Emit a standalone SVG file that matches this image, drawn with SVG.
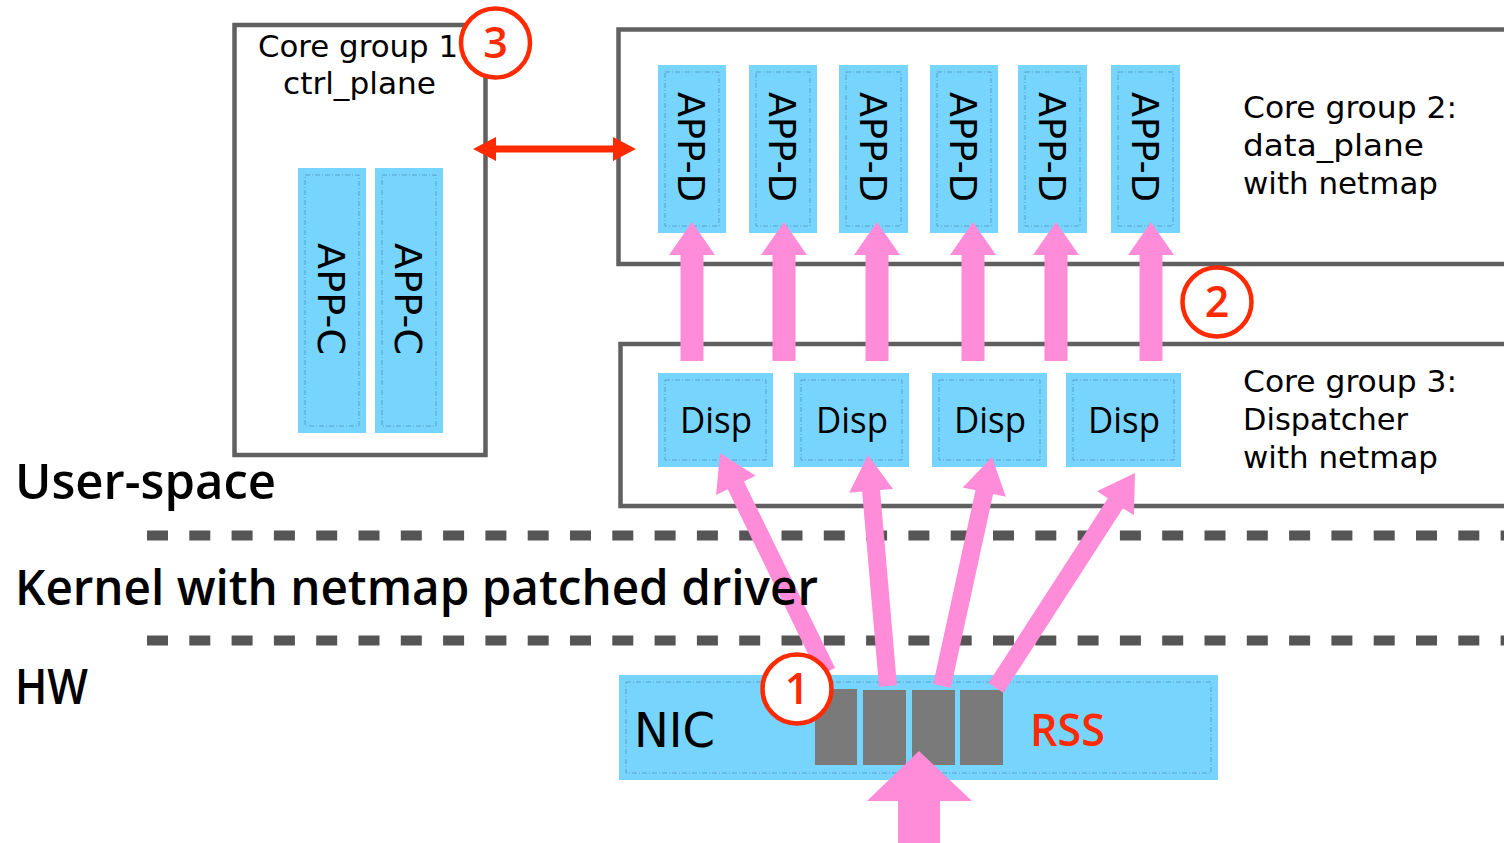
<svg xmlns="http://www.w3.org/2000/svg" xmlns:xlink="http://www.w3.org/1999/xlink" width="1504" height="843" viewBox="0 0 1504 843">
<style>
.frame{fill:none;stroke:#606060;stroke-width:4.5}
.blue{fill:#77d5fd}
.inner{fill:none;stroke:#4f97b8;stroke-width:1;stroke-dasharray:5 2 1 2;opacity:0.8}
.pink{fill:#ff8cd8}
.sep{stroke:#555555;stroke-width:10;stroke-dasharray:21 21.3}
.ring{fill:#ffffff;stroke:#ff2a00;stroke-width:4.5}
.num{font-family:"Open Sans","Liberation Sans",sans-serif;font-weight:600;font-size:43px;fill:#ff2a00;text-anchor:middle}
.lbl{font-family:"DejaVu Sans","Liberation Sans",sans-serif;font-size:30px;fill:#000}
.app{font-family:"DejaVu Sans","Liberation Sans",sans-serif;font-size:38px;fill:#000;text-anchor:middle}
.disp{font-family:"Open Sans","Liberation Sans",sans-serif;font-size:37px;fill:#000;text-anchor:middle}
.layer{font-family:"Open Sans","Liberation Sans",sans-serif;font-weight:600;font-size:48px;fill:#000}
</style>
<defs>
<path id="varr" d="M-11.5,361 V255 H-23 L0,222 L23,255 H11.5 V361 Z"/>
</defs>

<g id="core-group-1">
<rect class="frame" x="234.5" y="25" width="251" height="430"/>
<text class="lbl" x="258" y="57" textLength="200" lengthAdjust="spacingAndGlyphs">Core group 1</text>
<text class="lbl" x="283" y="94" textLength="153" lengthAdjust="spacingAndGlyphs">ctrl_plane</text>
</g>
<g id="core-group-2">
<path class="frame" d="M1510,29.5 H618.5 V264 H1510"/>
<text class="lbl" x="1243" y="118" textLength="214" lengthAdjust="spacingAndGlyphs">Core group 2:</text>
<text class="lbl" x="1243" y="156" textLength="181" lengthAdjust="spacingAndGlyphs">data_plane</text>
<text class="lbl" x="1243" y="194" textLength="195" lengthAdjust="spacingAndGlyphs">with netmap</text>
</g>
<g id="core-group-3">
<path class="frame" d="M1510,344 H620.5 V506 H1510"/>
<text class="lbl" x="1243" y="392" textLength="214" lengthAdjust="spacingAndGlyphs">Core group 3:</text>
<text class="lbl" x="1243" y="430" textLength="165" lengthAdjust="spacingAndGlyphs">Dispatcher</text>
<text class="lbl" x="1243" y="468" textLength="195" lengthAdjust="spacingAndGlyphs">with netmap</text>
</g>

<g id="separators">
<line class="sep" x1="147" y1="535.5" x2="1504" y2="535.5"/>
<line class="sep" x1="147" y1="640.5" x2="1504" y2="640.5"/>
</g>

<g id="app-c-1"><rect class="blue" x="298" y="168" width="68" height="265"/><rect class="inner" x="305" y="175" width="54" height="251"/><text class="app" transform="translate(332,299) rotate(90)" y="14" textLength="112" lengthAdjust="spacingAndGlyphs">APP-C</text></g>
<g id="app-c-2"><rect class="blue" x="375" y="168" width="68" height="265"/><rect class="inner" x="382" y="175" width="54" height="251"/><text class="app" transform="translate(409,299) rotate(90)" y="14" textLength="112" lengthAdjust="spacingAndGlyphs">APP-C</text></g>

<g id="app-d-1"><rect class="blue" x="658" y="65" width="68" height="168"/><rect class="inner" x="665" y="72" width="54" height="154"/><text class="app" transform="translate(692,147) rotate(90)" y="14" textLength="110" lengthAdjust="spacingAndGlyphs">APP-D</text></g>
<g id="app-d-2"><rect class="blue" x="749" y="65" width="68" height="168"/><rect class="inner" x="756" y="72" width="54" height="154"/><text class="app" transform="translate(783,147) rotate(90)" y="14" textLength="110" lengthAdjust="spacingAndGlyphs">APP-D</text></g>
<g id="app-d-3"><rect class="blue" x="839" y="65" width="69" height="168"/><rect class="inner" x="846" y="72" width="55" height="154"/><text class="app" transform="translate(873.5,147) rotate(90)" y="14" textLength="110" lengthAdjust="spacingAndGlyphs">APP-D</text></g>
<g id="app-d-4"><rect class="blue" x="930" y="65" width="68" height="168"/><rect class="inner" x="937" y="72" width="54" height="154"/><text class="app" transform="translate(964,147) rotate(90)" y="14" textLength="110" lengthAdjust="spacingAndGlyphs">APP-D</text></g>
<g id="app-d-5"><rect class="blue" x="1018" y="65" width="69" height="168"/><rect class="inner" x="1025" y="72" width="55" height="154"/><text class="app" transform="translate(1052.5,147) rotate(90)" y="14" textLength="110" lengthAdjust="spacingAndGlyphs">APP-D</text></g>
<g id="app-d-6"><rect class="blue" x="1111" y="65" width="69" height="168"/><rect class="inner" x="1118" y="72" width="55" height="154"/><text class="app" transform="translate(1145.5,147) rotate(90)" y="14" textLength="110" lengthAdjust="spacingAndGlyphs">APP-D</text></g>

<g id="disp-1"><rect class="blue" x="658" y="373" width="115" height="94"/><rect class="inner" x="665" y="380" width="101" height="80"/><text class="disp" x="716" y="433" textLength="72" lengthAdjust="spacingAndGlyphs">Disp</text></g>
<g id="disp-2"><rect class="blue" x="794" y="373" width="115" height="94"/><rect class="inner" x="801" y="380" width="101" height="80"/><text class="disp" x="852" y="433" textLength="72" lengthAdjust="spacingAndGlyphs">Disp</text></g>
<g id="disp-3"><rect class="blue" x="932" y="373" width="115" height="94"/><rect class="inner" x="939" y="380" width="101" height="80"/><text class="disp" x="990" y="433" textLength="72" lengthAdjust="spacingAndGlyphs">Disp</text></g>
<g id="disp-4"><rect class="blue" x="1066" y="373" width="115" height="94"/><rect class="inner" x="1073" y="380" width="101" height="80"/><text class="disp" x="1124" y="433" textLength="72" lengthAdjust="spacingAndGlyphs">Disp</text></g>

<g id="nic">
<rect class="blue" x="619" y="675" width="599" height="105"/>
<rect class="inner" x="626" y="682" width="585" height="91"/>
<rect x="815" y="689" width="42" height="76" fill="#7a7a7a"/>
<rect x="863" y="690" width="43" height="75" fill="#7a7a7a"/>
<rect x="912" y="690" width="43" height="75" fill="#7a7a7a"/>
<rect x="960" y="690" width="43" height="75" fill="#7a7a7a"/>
<text x="634" y="747" font-family="DejaVu Sans, Liberation Sans, sans-serif" font-size="48" fill="#000" textLength="81" lengthAdjust="spacingAndGlyphs">NIC</text>
<text x="1030" y="746" font-family="Open Sans, Liberation Sans, sans-serif" font-weight="600" font-size="46" fill="#ff2a00" textLength="75" lengthAdjust="spacingAndGlyphs">RSS</text>
</g>

<g id="connectors">
<use xlink:href="#varr" href="#varr" x="692" class="pink"/>
<use xlink:href="#varr" href="#varr" x="784" class="pink"/>
<use xlink:href="#varr" href="#varr" x="877" class="pink"/>
<use xlink:href="#varr" href="#varr" x="973" class="pink"/>
<use xlink:href="#varr" href="#varr" x="1056" class="pink"/>
<use xlink:href="#varr" href="#varr" x="1151" class="pink"/>
<path class="pink" transform="translate(827,672) rotate(-116.04)" d="M0,-9 H207.7 V-22 L243.7,0 L207.7,22 V9 H0 Z"/>
<path class="pink" transform="translate(888,686) rotate(-94.95)" d="M0,-9 H195.9 V-22 L231.9,0 L195.9,22 V9 H0 Z"/>
<path class="pink" transform="translate(942,686) rotate(-77.68)" d="M0,-9 H198.4 V-22 L234.4,0 L198.4,22 V9 H0 Z"/>
<path class="pink" transform="translate(996,688) rotate(-57.12)" d="M0,-9 H220 V-22 L256,0 L220,22 V9 H0 Z"/>
<path class="pink" d="M898,843 V801 H867 L919,751 L972,801 H940 V843 Z"/>
<path fill="#ff2a00" d="M473,149 L496,137 V145.5 H613 V137 L636,149 L613,161 V152.5 H496 V161 Z"/>
</g>

<g id="marker-1"><circle class="ring" cx="797" cy="689" r="34.5"/><text class="num" x="797" y="704">1</text></g>
<g id="marker-2"><circle class="ring" cx="1217" cy="302" r="34.5"/><text class="num" x="1217" y="317">2</text></g>
<g id="marker-3"><circle class="ring" cx="495.5" cy="43" r="34.5"/><text class="num" x="495.5" y="58">3</text></g>

<g id="layers">
<text class="layer" x="15" y="499" textLength="261" lengthAdjust="spacingAndGlyphs">User-space</text>
<text class="layer" x="15" y="605" textLength="803" lengthAdjust="spacingAndGlyphs">Kernel with netmap patched driver</text>
<text class="layer" x="15" y="704" textLength="73" lengthAdjust="spacingAndGlyphs">HW</text>
</g>
</svg>
